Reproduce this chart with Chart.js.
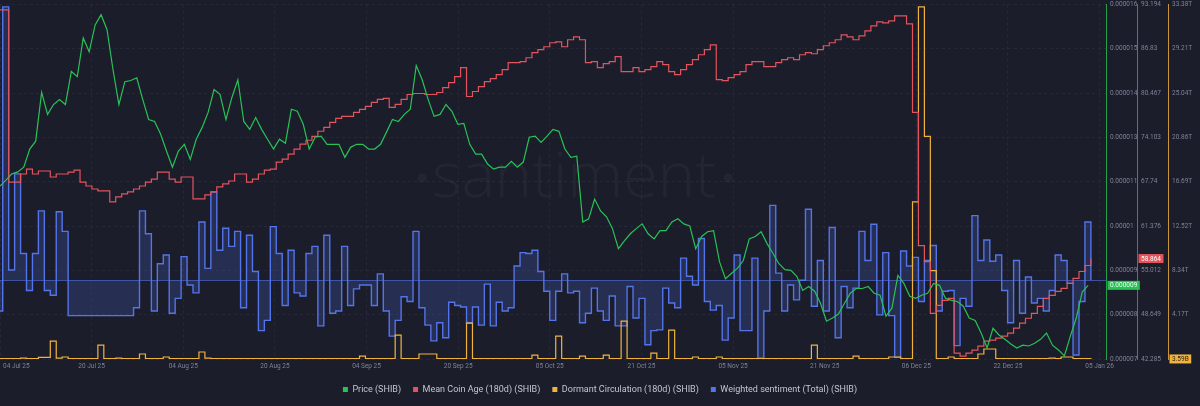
<!DOCTYPE html>
<html><head><meta charset="utf-8">
<script src="https://cdn.jsdelivr.net/npm/chart.js@4.4.1/dist/chart.umd.min.js"></script>
<style>html,body{margin:0;padding:0;background:#1b1d2b;}canvas{display:block}</style>
</head><body>
<canvas id="c" width="1200" height="406"></canvas>
<script>
// SHIB price in 1e-6 USD, one sample per day from the chart start
const priceMicro = [11.39,11.54,11.70,11.75,11.87,12.33,12.53,13.77,13.21,13.46,
 13.59,13.46,14.30,14.17,15.15,14.80,15.48,15.74,15.36,14.35,
 13.46,14.04,14.07,14.14,13.59,13.08,13.03,12.71,12.28,11.87,
 12.28,12.45,12.07,12.58,12.88,13.26,13.84,13.72,13.08,13.64,
 14.09,13.03,12.83,13.13,12.83,12.58,12.33,12.58,12.48,13.34,
 13.29,12.96,12.33,12.63,12.66,12.45,12.45,12.45,12.12,12.38,
 12.45,12.45,12.33,12.33,12.45,12.76,13.08,13.03,13.21,13.34,
 14.45,14.09,13.59,13.16,13.21,13.46,13.29,12.96,12.98,12.45,
 12.20,12.20,11.95,11.82,11.87,11.87,12.02,11.87,12.00,12.63,
 12.66,12.50,12.66,12.83,12.78,12.33,12.12,12.15,10.48,10.56,
 11.06,10.76,10.61,10.31,9.80,10.00,10.18,10.31,10.43,10.18,
 10.05,10.26,10.26,10.48,10.56,10.43,10.38,9.80,10.11,10.23,
 10.26,9.47,9.04,9.17,9.30,9.50,10.05,10.11,10.23,9.93,
 9.68,9.42,9.27,9.25,9.10,8.74,8.84,8.72,8.41,7.96,
 8.04,8.14,8.41,8.67,8.79,8.79,8.84,8.67,8.62,8.09,
 8.29,9.12,8.92,8.59,8.54,8.62,8.67,8.92,8.87,8.54,
 8.49,8.46,8.34,8.04,7.98,7.66,7.28,7.78,7.61,7.50,
 7.38,7.28,7.35,7.33,7.40,7.50,7.66,7.35,7.23,7.08,
 7.58,8.04,8.70,8.87];

// Daily series, first value = 03 Jul 2025
const meanCoinAge = [92.41,92.41,67.70,67.70,68.85,69.56,68.85,69.28,69.28,68.42,
 68.85,68.85,69.13,69.42,67.70,67.13,66.70,66.42,66.42,64.85,
 65.56,65.99,66.28,66.70,67.13,67.70,68.13,69.13,69.13,68.13,
 67.70,68.42,68.42,65.28,65.28,65.85,66.28,66.99,67.42,67.85,
 68.85,68.85,67.70,68.13,68.85,69.42,69.56,70.56,70.99,71.70,
 72.42,73.13,73.70,74.27,74.99,75.56,76.27,76.84,77.13,77.13,
 77.70,78.13,78.56,79.13,79.56,79.70,78.41,78.84,79.56,80.27,
 80.41,80.41,80.27,80.27,80.56,81.27,81.98,82.84,84.13,79.98,
 80.70,81.41,82.13,82.56,83.13,83.84,84.84,84.84,84.98,85.55,
 86.27,86.70,87.13,87.70,87.84,87.13,88.13,88.55,88.13,84.84,
 84.98,84.13,84.70,84.98,85.70,83.56,83.56,84.13,83.56,83.84,
 84.27,84.98,84.56,83.56,83.13,83.84,84.56,85.27,85.98,86.70,
 87.41,82.41,82.27,82.70,83.13,83.56,84.56,84.98,84.98,84.27,
 84.27,84.84,85.27,85.55,85.27,85.98,86.27,86.12,86.70,87.27,
 87.70,88.13,88.84,88.55,88.13,88.70,89.41,90.12,90.69,90.55,
 90.84,91.55,91.55,90.41,77.70,58.56,56.28,48.85,50.00,50.71,
 51.00,43.14,42.71,43.14,43.57,44.14,44.86,45.00,45.28,45.57,
 46.00,46.71,47.43,48.14,48.85,49.85,51.00,51.42,52.00,52.42,
 53.14,53.85,54.85,55.71,56.71];

// Dormant circulation (180d), trillions SHIB
const dormantT = [0.04,0.04,0.04,0.04,0.09,0.04,0.04,0.16,0.16,1.69,
 0.09,0.19,0.04,0.04,0.04,0.04,0.04,1.31,0.04,0.04,
 0.09,0.04,0.04,0.04,0.47,0.04,0.04,0.04,0.19,0.04,
 0.04,0.04,0.04,0.04,0.66,0.09,0.04,0.04,0.04,0.04,
 0.04,0.04,0.04,0.04,0.04,0.04,0.04,0.04,0.04,0.04,
 0.04,0.04,0.04,0.04,0.04,0.04,0.04,0.04,0.04,0.04,
 0.04,0.28,0.04,0.04,0.04,0.04,0.04,2.25,0.04,0.04,
 0.04,0.47,0.47,0.47,0.04,0.04,0.04,0.04,0.04,3.37,
 0.04,0.04,0.04,0.04,0.04,0.04,0.04,0.04,0.04,0.04,
 0.37,0.04,0.04,0.04,2.15,0.04,0.04,0.04,0.28,0.04,
 0.04,0.04,0.37,0.04,0.04,3.56,0.04,0.04,0.04,0.04,
 0.56,0.04,0.04,2.72,0.04,0.04,0.04,0.19,0.04,0.04,
 0.04,0.19,0.04,0.04,0.04,0.04,0.04,0.04,0.04,0.04,
 0.04,0.04,0.04,0.04,0.04,0.04,0.04,1.31,0.04,0.04,
 0.04,0.04,0.04,0.04,0.28,0.04,0.04,0.04,0.04,0.04,
 0.19,0.19,0.04,0.04,14.79,33.15,20.97,8.33,0.04,0.04,
 0.19,0.04,0.04,0.04,0.04,0.47,0.94,0.94,0.04,0.04,
 0.04,0.04,0.04,0.04,0.04,0.04,0.04,0.09,0.04,0.19,
 0.19,0.04,0.04,0.04,0.00359];

// Weighted sentiment (Total)
const sentiment = [-0.39,3.47,0.13,1.35,0.34,-0.13,0.34,0.88,-0.13,-0.19,
 0.87,0.62,-0.45,null,null,null,null,null,null,null,
 null,null,null,-0.35,0.88,0.59,-0.39,0.21,0.32,-0.42,
 -0.23,0.30,-0.06,-0.16,0.74,0.15,1.12,0.38,0.66,0.43,
 0.62,-0.35,0.57,0.11,-0.64,-0.51,0.68,0.34,-0.32,0.38,
 -0.16,-0.20,0.34,0.43,-0.58,0.57,-0.42,-0.39,0.43,-0.32,
 -0.11,-0.06,-0.06,-0.32,0.08,-0.39,-0.71,-0.51,-0.21,-0.27,
 0.62,-0.35,-0.57,-0.77,-0.54,-0.73,-0.28,-0.32,-0.34,-0.54,
 -0.34,-0.57,-0.05,-0.58,-0.28,-0.39,-0.35,0.18,0.35,0.34,
 0.38,0.11,-0.14,-0.51,-0.14,0.08,-0.16,-0.14,-0.54,-0.42,
 -0.10,-0.39,-0.51,-0.20,-0.58,-0.58,-0.08,-0.48,-0.23,-0.82,
 -0.64,-0.63,-0.10,-0.29,-0.35,0.28,0.05,-0.06,0.53,-0.27,
 -0.38,-0.32,-0.76,-0.48,0.32,-0.64,-0.64,0.28,-0.99,-0.39,
 0.95,0.09,-0.39,-0.06,-0.25,0.00,0.90,-0.33,0.25,-0.39,
 0.67,-0.73,-0.08,-0.35,-0.10,0.62,0.25,0.71,-0.44,0.35,
 -0.45,-0.98,0.37,0.18,0.29,-0.27,0.25,0.44,-0.39,-0.14,
 -0.13,-0.83,-0.23,-0.33,0.82,0.25,0.51,0.24,0.32,-0.13,
 -0.54,0.25,-0.42,0.04,-0.29,-0.23,-0.39,-0.13,0.32,0.25,
 -0.04,-0.95,-0.27,0.74,0.00];

const seriesNames = ['Price (SHIB)','Mean Coin Age (180d) (SHIB)','Dormant Circulation (180d) (SHIB)','Weighted sentiment (Total) (SHIB)'];
const xTickLabels = ['04 Jul 25','20 Jul 25','04 Aug 25','20 Aug 25','04 Sep 25','20 Sep 25','05 Oct 25','21 Oct 25','05 Nov 25','21 Nov 25','06 Dec 25','22 Dec 25','05 Jan 26'];
const priceTickLabels = ['0.000007','0.000008','0.000009','0.00001','0.000011','0.000013','0.000014','0.000015','0.000016'];
const ageTickLabels = ['42.285','48.649','55.012','61.376','67.74','74.103','80.467','86.83','93.194'];
const dormantTickLabels = ['0','4.17T','8.34T','12.52T','16.69T','20.86T','25.04T','29.21T','33.38T'];
const lastValueLabels = ['0.000009','58.864','3.59B'];

// ---- build
const DAY = 86400000;
const axisStart = Date.UTC(2025,6,3,13);
const dailyStart = Date.UTC(2025,6,3);
const toDays = t => (t - axisStart) / DAY;
const dailyPts = arr => arr.map((v,i) => ({x: toDays(dailyStart + i*DAY), y: v}));
const pricePts = priceMicro.map((v,i) => ({x: toDays(axisStart + i*DAY), y: v}));
const X_SPAN = 186, X_TICK_STEP = 15.41;

const COL = {bg:'#1b1d2b', green:'#28c255', red:'#e4545c', yellow:'#f2b33d', blue:'#5474ea', tick:'#7f8396', legend:'#c3c6d1', grid:'rgba(255,255,255,0.05)'};
const FONT = 'Roboto';

function evenTicks(labels, min, max){ return s => { s.ticks = labels.map((_,i)=>({value: min + i*(max-min)/(labels.length-1)})); }; }
function fixW(w){ return s => { s.width = w; s.paddingTop = 0; s.paddingBottom = 0; }; }

const decor = {
  id:'decor',
  beforeDraw(chart){
    const c = chart.ctx; c.save(); c.fillStyle = COL.bg; c.fillRect(0,0,chart.width,chart.height); c.restore();
  },
  beforeDatasetsDraw(chart){
    const c = chart.ctx, a = chart.chartArea;
    // watermark
    c.save();
    c.fillStyle = 'rgba(255,255,255,0.04)';
    c.font = '300 70px "Open Sans"';
    const w = c.measureText('santiment').width;
    const size = 70 * 284 / w;
    c.font = '300 ' + size + 'px "Open Sans"';
    c.textAlign = 'center'; c.textBaseline = 'alphabetic';
    c.fillText('santiment', 574, 197);
    c.beginPath(); c.arc(422,178,4.5,0,Math.PI*2); c.arc(728,178,4.5,0,Math.PI*2); c.fill();
    c.restore();
    // sentiment zero line
    const y0 = chart.scales.ySent.getPixelForValue(0);
    c.save(); c.strokeStyle = 'rgba(84,116,234,0.6)'; c.lineWidth = 1;
    c.beginPath(); c.moveTo(a.left, Math.round(y0)+0.5); c.lineTo(a.right, Math.round(y0)+0.5); c.stroke(); c.restore();
  },
  afterDraw(chart){
    const c = chart.ctx, a = chart.chartArea, xs = chart.scales.x;
    // x tick labels
    c.save(); c.font = '6.5px ' + FONT; c.fillStyle = COL.tick; c.textBaseline = 'middle';
    xs.ticks.forEach((t,i) => {
      const lbl = xTickLabels[i]; const px = xs.getPixelForValue(t.value);
      const w = c.measureText(lbl).width; let left = px - w/2; if (left < 3) left = 3;
      c.fillText(lbl, left, a.bottom + 7);
    });
    c.restore();
    // last value badges
    const badges = [
      {ds:0, axis:'yPrice', bg:COL.green, fg:'#eafff0'},
      {ds:1, axis:'yAge', bg:COL.red, fg:'#ffffff'},
      {ds:2, axis:'yDorm', bg:COL.yellow, fg:'#2a2418'}
    ];
    c.save(); c.font = '6.5px ' + FONT; c.textBaseline = 'middle';
    badges.forEach((b,i) => {
      const meta = chart.getDatasetMeta(b.ds); const el = meta.data[meta.data.length-1];
      const ax = chart.scales[b.axis]; const txt = lastValueLabels[i];
      const w = c.measureText(txt).width; const y = el.y;
      c.fillStyle = b.bg; c.fillRect(ax.left + 1.5, y - 4.5, w + 5, 9);
      c.fillStyle = b.fg; c.fillText(txt, ax.left + 4, y + 0.5);
    });
    c.restore();
  }
};

new Chart(document.getElementById('c'), {
  type: 'line',
  data: { datasets: [
    {label: seriesNames[0], data: pricePts, yAxisID:'yPrice', borderColor: COL.green, borderWidth:1.2, pointRadius:0, tension:0, order:0},
    {label: seriesNames[1], data: dailyPts(meanCoinAge), yAxisID:'yAge', borderColor: COL.red, borderWidth:1.2, pointRadius:0, stepped:true, order:1},
    {label: seriesNames[2], data: dailyPts(dormantT), yAxisID:'yDorm', borderColor: COL.yellow, borderWidth:1.2, pointRadius:0, stepped:true, order:2},
    {label: seriesNames[3], data: dailyPts(sentiment), yAxisID:'ySent', borderColor: COL.blue, borderWidth:1.4, pointRadius:0, stepped:true, spanGaps:true, fill:'origin', backgroundColor:'rgba(84,116,234,0.2)', order:3}
  ]},
  options: {
    responsive:false, animation:false, devicePixelRatio:1,
    layout:{padding:{top:4.5, left:0, right:0, bottom:2}},
    plugins:{
      tooltip:{enabled:false},
      legend:{position:'bottom', labels:{
        color: COL.legend, font:{family:FONT, size:9}, boxWidth:5, boxHeight:5, padding:12,
        generateLabels: chart => chart.data.datasets.map((ds,i)=>({text: ds.label, fillStyle: ds.borderColor, strokeStyle: ds.borderColor, lineWidth:0, hidden:false, datasetIndex:i, fontColor: COL.legend}))
      }}
    },
    scales:{
      x:{type:'linear', min:0, max:X_SPAN,
        afterBuildTicks: s => { s.ticks = xTickLabels.map((_,i)=>({value: i*X_TICK_STEP})); },
        ticks:{display:false}, grid:{color:COL.grid, drawTicks:false}, border:{display:false, dash:[3,3]},
        afterFit: s => { s.height = 14; s.paddingLeft = 0; s.paddingRight = 0; }},
      yPrice:{position:'right', min:7, max:16, afterBuildTicks: evenTicks(priceTickLabels,7,16),
        ticks:{callback:(v,i)=>priceTickLabels[i], color:COL.tick, font:{family:FONT,size:6.5}, padding:4, autoSkip:false},
        grid:{color:COL.grid, drawTicks:false}, border:{color:'rgba(40,194,85,0.8)', width:1, dash:[3,3]}, afterFit: fixW(31)},
      yAge:{position:'right', min:42.285, max:93.194, afterBuildTicks: evenTicks(ageTickLabels,42.285,93.194),
        ticks:{callback:(v,i)=>ageTickLabels[i], color:COL.tick, font:{family:FONT,size:6.5}, padding:4, autoSkip:false},
        grid:{display:false, drawTicks:false}, border:{color:'rgba(228,84,92,0.8)', width:1}, afterFit: fixW(31)},
      yDorm:{position:'right', min:0, max:33.38, afterBuildTicks: evenTicks(dormantTickLabels,0,33.38),
        ticks:{callback:(v,i)=>dormantTickLabels[i], color:COL.tick, font:{family:FONT,size:6.5}, padding:4, autoSkip:false},
        grid:{display:false, drawTicks:false}, border:{color:'rgba(242,179,61,0.8)', width:1}, afterFit: fixW(32)},
      ySent:{display:false, position:'left', min:-1, max:3.5}
    }
  },
  plugins:[decor]
});
</script>
</body></html>
